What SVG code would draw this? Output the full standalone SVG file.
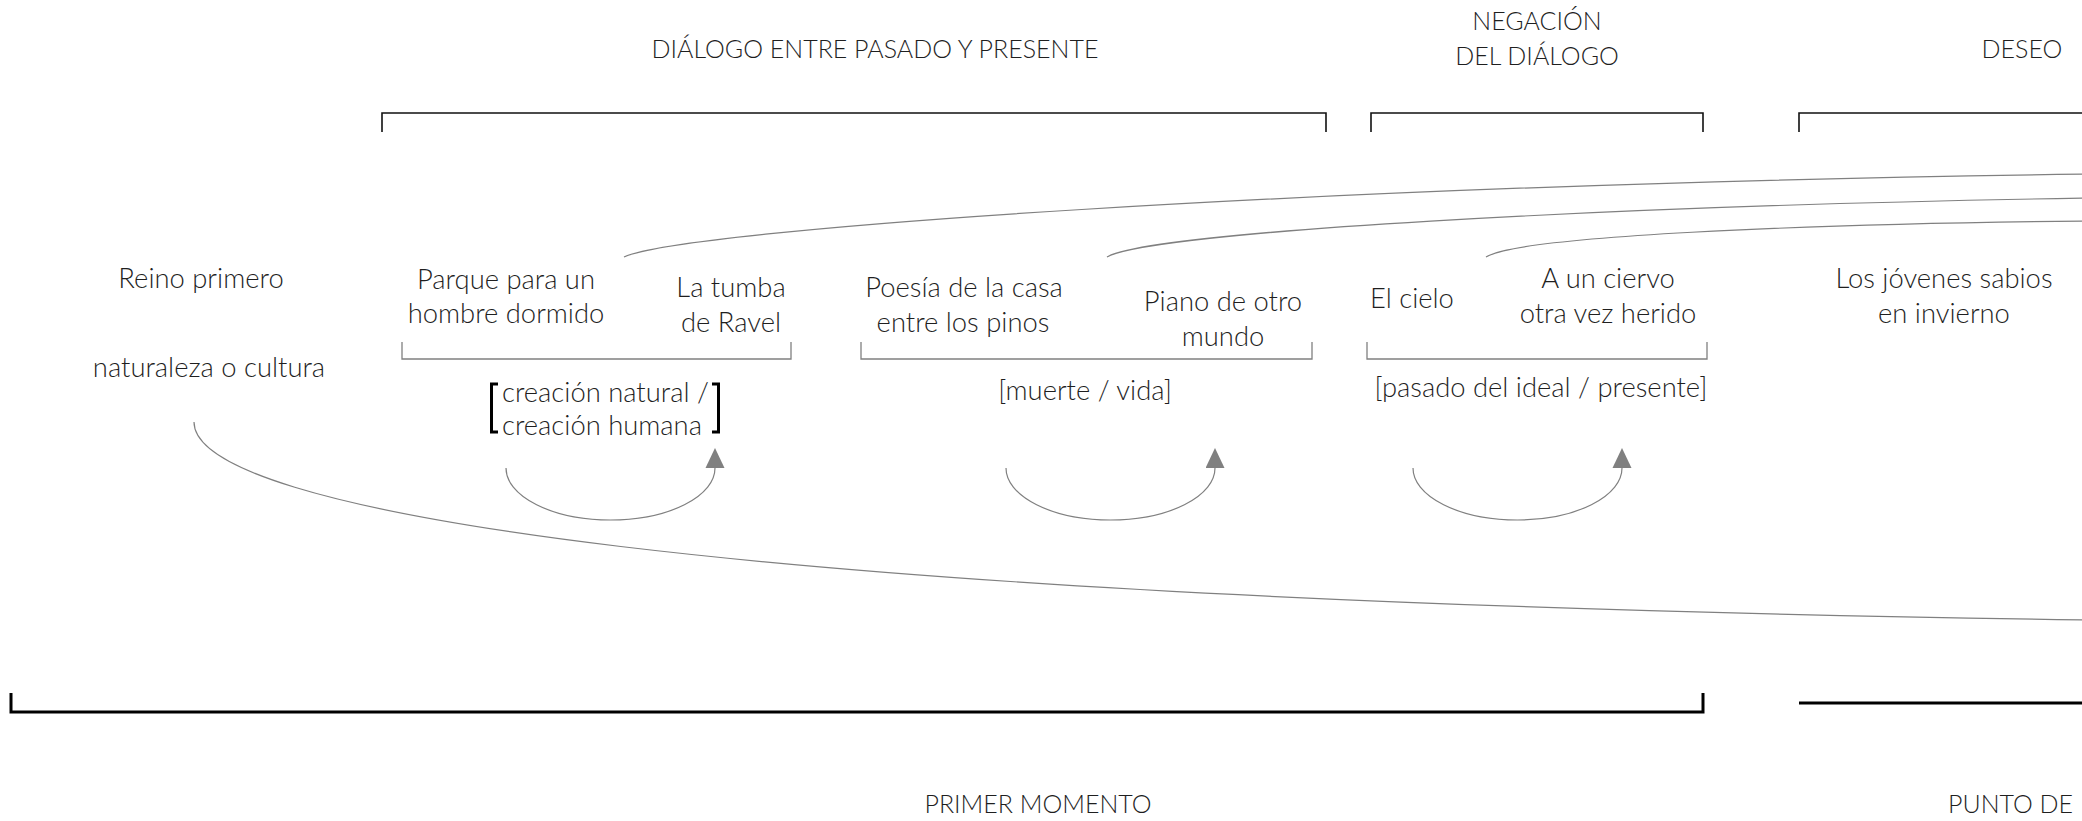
<svg xmlns="http://www.w3.org/2000/svg" width="2082" height="821" viewBox="0 0 2082 821">
<defs>
<style>
text{font-family:"Lato Light",Carlito,Lato,"Liberation Sans",sans-serif;font-weight:300;fill:#1f1f1f;font-size:27.4px;}
.t{text-anchor:middle;font-size:25px;}
.n{text-anchor:middle;}
.s{text-anchor:start;}
.b{fill:none;stroke:#111;stroke-width:1.6;}
.bb{fill:none;stroke:#000;stroke-width:3;}
.g{fill:none;stroke:#808080;stroke-width:1.3;}
.c{fill:none;stroke:#808080;stroke-width:1.2;}
.sq{fill:none;stroke:#000;stroke-width:3;}
</style>
<marker id="ah" markerUnits="userSpaceOnUse" markerWidth="22" markerHeight="20" refX="0" refY="9.5" orient="auto">
<path d="M0,0 L20,9.5 L0,19 Z" fill="#808080"/>
</marker>
</defs>
<rect width="2082" height="821" fill="#fff"/>

<g id="titles">
<text class="t" x="875" y="58">DIÁLOGO ENTRE PASADO Y PRESENTE</text>
<text class="t" x="1537" y="30">NEGACIÓN</text>
<text class="t" x="1537" y="65">DEL DIÁLOGO</text>
<text class="t" x="2022" y="58">DESEO</text>
</g>

<g id="top-brackets">
<path class="b" d="M382,132 V113 H1326 V132"/>
<path class="b" d="M1371,132 V113 H1703 V132"/>
<path class="b" d="M1799,132 V113 H2090"/>
</g>

<g id="reino"><text class="n" x="201" y="288">Reino primero</text></g>
<g id="naturaleza"><text class="n" x="209" y="377">naturaleza o cultura</text></g>
<g id="parque"><text class="n" x="506" y="289">Parque para un</text><text class="n" x="506" y="323">hombre dormido</text></g>
<g id="tumba"><text class="n" x="731" y="297">La tumba</text><text class="n" x="731" y="332">de Ravel</text></g>
<g id="poesia"><text class="n" x="964" y="297">Poesía de la casa</text><text class="n" x="963" y="332">entre los pinos</text></g>
<g id="piano"><text class="n" x="1223" y="311">Piano de otro</text><text class="n" x="1223" y="346">mundo</text></g>
<g id="cielo"><text class="n" x="1412" y="308">El cielo</text></g>
<g id="ciervo"><text class="n" x="1608" y="288">A un ciervo</text><text class="n" x="1608" y="323">otra vez herido</text></g>
<g id="jovenes"><text class="n" x="1944" y="288">Los jóvenes sabios</text><text class="n" x="1944" y="323">en invierno</text></g>

<g id="sub-brackets">
<path class="g" d="M402,342 V359 H791 V342"/>
<path class="g" d="M861,342 V359 H1312 V342"/>
<path class="g" d="M1367,342 V359 H1707 V342"/>
</g>

<g id="creacion">
<path class="sq" d="M498,384 H491.5 V432 H498"/>
<path class="sq" d="M712,384 H718.5 V432 H712"/>
<text class="s" x="502" y="402">creación natural /</text>
<text class="s" x="502" y="435">creación humana</text>
</g>
<g id="muerte"><text class="n" x="1085" y="400">[muerte / vida]</text></g>
<g id="pasado"><text class="n" x="1541" y="397">[pasado del ideal / presente]</text></g>

<g id="connectors">
<path class="c" d="M624,257 C680,230 1300,185 2090,174"/>
<path class="c" d="M1107,257 C1150,232 1600,206 2090,198"/>
<path class="c" d="M1486,257 C1520,236 1800,224 2090,221"/>
<path class="c" d="M194,422 C194,510 700,600 2090,620"/>
<path class="c" d="M506,468 A104.5,52 0 0 0 715,468" marker-end="url(#ah)"/>
<path class="c" d="M1006,468 A104.5,52 0 0 0 1215,468" marker-end="url(#ah)"/>
<path class="c" d="M1413,468 A104.5,52 0 0 0 1622,468" marker-end="url(#ah)"/>
</g>

<g id="bottom-brackets">
<path class="bb" d="M11,693 V712 H1703 V693"/>
<path class="bb" d="M1799,703 H2090"/>
</g>

<g id="bottom-labels">
<text class="t" x="1038" y="813">PRIMER MOMENTO</text>
<text class="t s" x="1948" y="813">PUNTO DE</text>
</g>
</svg>
